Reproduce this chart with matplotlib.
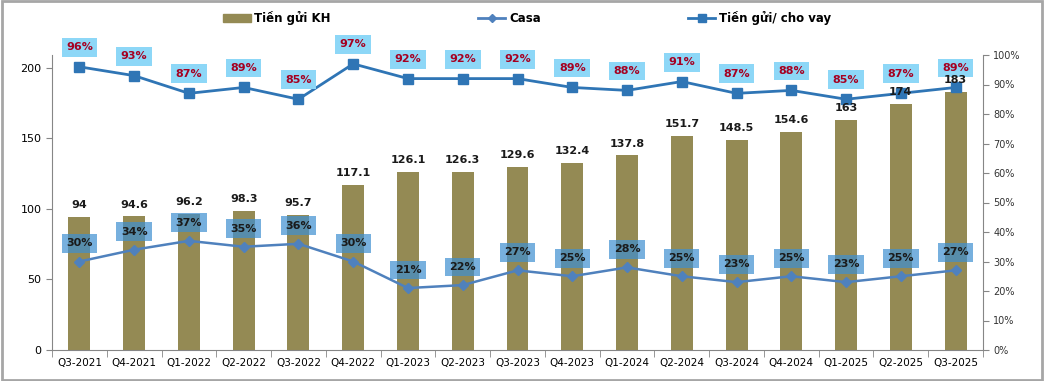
import matplotlib
matplotlib.use("Agg")
import matplotlib.pyplot as plt
from matplotlib.patches import Rectangle
from matplotlib.lines import Line2D
from matplotlib.ticker import FixedLocator, PercentFormatter
import numpy as np

quarters = ["Q3-2021", "Q4-2021", "Q1-2022", "Q2-2022", "Q3-2022", "Q4-2022",
            "Q1-2023", "Q2-2023", "Q3-2023", "Q4-2023", "Q1-2024", "Q2-2024",
            "Q3-2024", "Q4-2024", "Q1-2025", "Q2-2025", "Q3-2025"]
deposits = [94, 94.6, 96.2, 98.3, 95.7, 117.1, 126.1, 126.3, 129.6, 132.4,
            137.8, 151.7, 148.5, 154.6, 163, 174, 183]
casa = [30, 34, 37, 35, 36, 30, 21, 22, 27, 25, 28, 25, 23, 25, 23, 25, 27]
ldr = [96, 93, 87, 89, 85, 97, 92, 92, 92, 89, 88, 91, 87, 88, 85, 87, 89]

bar_color = "#948A54"
line_color = "#2F75B5"
casa_color = "#4F81BD"

fig = plt.figure(figsize=(10.44, 3.81), dpi=100)
fig.patches.append(Rectangle((0.002, 0.003), 0.996, 0.994, transform=fig.transFigure,
                             fill=False, edgecolor="#A6A6A6", linewidth=2))
ax = fig.add_axes([52 / 1044, 1 - 350 / 381, (983 - 52) / 1044, (350 - 55) / 381])
ax2 = ax.twinx()

x = np.arange(len(quarters))
ax.bar(x, deposits, width=0.4, color=bar_color, zorder=1)

ax.set_xlim(-0.5, len(quarters) - 0.5)
ax.set_ylim(0, 209)
ax.set_yticks([0, 50, 100, 150, 200])
ax.set_xticks(x)
ax.set_xticklabels(quarters)
ax.xaxis.set_minor_locator(FixedLocator(np.arange(-0.5, len(quarters), 1)))
ax.tick_params(axis="x", which="major", length=0, labelsize=7.5, pad=6)
ax.tick_params(axis="x", which="minor", length=5, color="#868686")
ax.tick_params(axis="y", length=4, color="#868686", labelsize=8, direction="out")
for s in ["top", "right"]:
    ax.spines[s].set_visible(False)
ax.spines["left"].set_color("#868686")
ax.spines["bottom"].set_color("#868686")

ax2.set_ylim(0, 100)
ax2.set_yticks(range(0, 101, 10))
ax2.yaxis.set_major_formatter(PercentFormatter(decimals=0))
ax2.tick_params(axis="y", length=4, color="#868686", labelsize=7, labelcolor="#333333")
for s in ["top", "left", "bottom"]:
    ax2.spines[s].set_visible(False)
ax2.spines["right"].set_color("#868686")

ax2.plot(x, casa, color=casa_color, lw=1.8, marker="D", ms=5, zorder=3)
ax2.plot(x, ldr, color=line_color, lw=2, marker="s", ms=7, zorder=3)

# bar labels drawn on the top axes so they sit above the lines
for xi, v in zip(x, deposits):
    ax2.annotate(f"{v:g}", (xi, v), xycoords=ax.transData, xytext=(0, 5),
                 textcoords="offset points", ha="center", va="bottom",
                 fontsize=8, fontweight="bold", color="#1a1a1a", zorder=5)

for xi, v in zip(x, casa):
    ax2.annotate(f"{v}%", (xi, v), xytext=(0, 13), textcoords="offset points",
                 ha="center", va="center", fontsize=8, fontweight="bold", color="#1a1a1a",
                 bbox=dict(boxstyle="square,pad=0.4", fc="#3D8FD1", ec="none", alpha=0.7),
                 zorder=4)
for xi, v in zip(x, ldr):
    ax2.annotate(f"{v}%", (xi, v), xytext=(0, 14), textcoords="offset points",
                 ha="center", va="center", fontsize=8, fontweight="bold", color="#A50021",
                 bbox=dict(boxstyle="square,pad=0.4", fc="#8DD7F7", ec="none"),
                 zorder=4)

handles = [Rectangle((0, 0), 1, 1, color=bar_color),
           Line2D([], [], color=casa_color, lw=2, marker="D", ms=4),
           Line2D([], [], color=line_color, lw=2, marker="s", ms=6)]
labels = ["Tiền gửi KH", "Casa", "Tiền gửi/ cho vay"]
fig.legend(handles, labels, loc="center", bbox_to_anchor=(0.505, 1 - 18 / 381), ncol=3,
           frameon=False, columnspacing=12.5, handlelength=2.3, handletextpad=0.3,
           prop={"weight": "bold", "size": 8.5})

fig.savefig("out.png", dpi=100)
